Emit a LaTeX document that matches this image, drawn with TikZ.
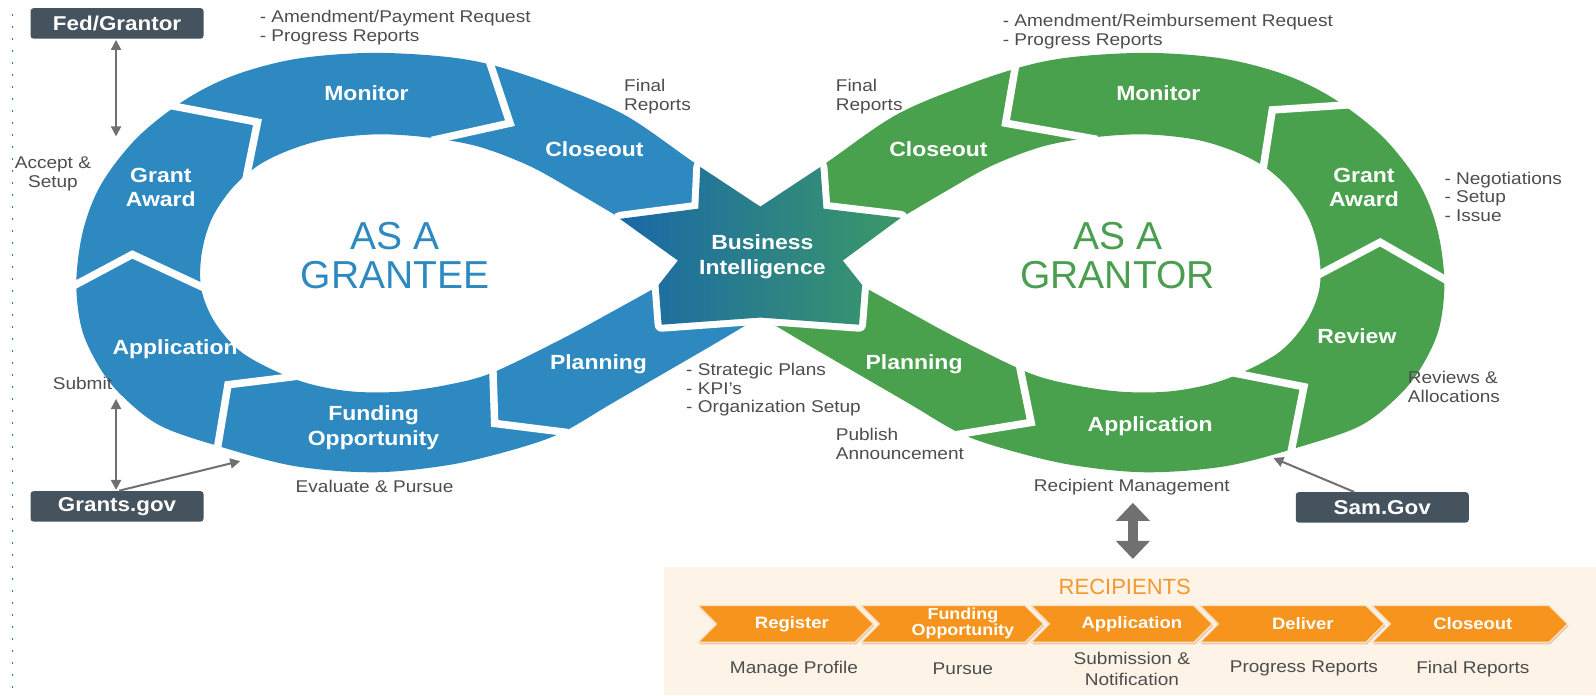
\documentclass[tikz,border=0pt]{standalone}
\usepackage{fontspec}
\setmainfont{Liberation Sans}[FakeStretch=1.12]
\newfontfamily\plainfont{Liberation Sans}
\usetikzlibrary{arrows.meta}
\definecolor{bandblue}{HTML}{2D89C0}
\definecolor{bandgreen}{HTML}{49A04D}
\definecolor{titlegreen}{HTML}{4A9E50}
\definecolor{starL}{HTML}{1A68A8}
\definecolor{starR}{HTML}{3B9868}
\definecolor{notegray}{HTML}{4D4D4D}
\definecolor{boxgray}{HTML}{45535E}
\definecolor{arrowgray}{HTML}{707070}
\definecolor{chevorange}{HTML}{F7941E}
\definecolor{chevshadow}{HTML}{E2CBB0}
\definecolor{chevedge}{HTML}{FBE1C2}
\definecolor{panelbg}{HTML}{FDF3E7}
\definecolor{recorange}{HTML}{F4972C}
\definecolor{dotcol}{HTML}{2B7A99}
\tikzset{
  seglabel/.style={font=\fontsize{20.5}{24.5}\selectfont\bfseries, text=white, align=center, inner sep=0},
  notetext/.style={font=\fontsize{17}{18.5}\selectfont, text=notegray, align=left, inner sep=0},
  darkbox/.style={fill=boxgray, rounded corners=3pt, text=white, font=\fontsize{20}{24}\selectfont\bfseries, minimum width=173pt, minimum height=30.5pt, inner sep=0},
  segsep/.style={draw=white, line width=7.5pt, line join=miter},
  dblarrow/.style={draw=arrowgray, line width=2pt, {Triangle[length=10pt,width=10pt]}-{Triangle[length=10pt,width=10pt]}},
  sglarrow/.style={draw=arrowgray, line width=2pt, -{Triangle[length=10pt,width=10pt]}},
  bigarr/.style={draw=arrowgray, line width=10pt, {Triangle[length=18pt,width=33pt]}-{Triangle[length=18pt,width=33pt]}},
  bigtitle/.style={font=\plainfont\fontsize{39}{39.5}\selectfont, align=center, inner sep=0},
  chevlabel/.style={font=\bfseries\fontsize{16.5}{16.5}\selectfont, text=white, inner sep=0, align=center},
}
\begin{document}
\begin{tikzpicture}[x=1.018pt,y=-1.018pt]
\useasboundingbox (0,0) rectangle (1568,683);

% dotted margin line
\draw[dotcol, line width=1.3pt, dash pattern=on 2pt off 10pt] (12,14) -- (12,690);

% left loop band
\fill[bandblue, even odd rule]
  plot[smooth, tension=0.55] coordinates {(747,206) (678,157) (612,112) (540,82) (480,63) (430,55) (361,52) (290,58) (230,74) (182,98) (135,135) (100,180) (82,225) (75,276) (80,322) (96,358) (118,387) (157,418) (217,439) (290,458) (368,464) (440,457) (500,443) (550,426) (600,397) (650,368) (700,339) (747,311)} -- cycle
  plot[smooth, tension=0.55] coordinates {(609,214) (565,188) (520,163) (470,144) (420,135) (370,132) (320,137) (283,148) (253,163) (228,185) (208,215) (198,250) (198,285) (212,318) (240,348) (291,373) (340,384) (390,385) (440,378) (484,366) (552,333) (600,307) (647,281)} -- (666,256) -- cycle;

% right loop band (mirror)
\begin{scope}[shift={(1494,0)}, xscale=-1]
\fill[bandgreen, even odd rule]
  plot[smooth, tension=0.55] coordinates {(747,206) (678,157) (612,112) (540,82) (480,63) (430,55) (361,52) (290,58) (230,74) (182,98) (135,135) (100,180) (82,225) (75,276) (80,322) (96,358) (118,387) (157,418) (217,439) (290,458) (368,464) (440,457) (500,443) (550,426) (600,397) (650,368) (700,339) (747,311)} -- cycle
  plot[smooth, tension=0.55] coordinates {(609,214) (565,188) (520,163) (470,144) (420,135) (370,132) (320,137) (283,148) (253,163) (228,185) (208,215) (198,250) (198,285) (212,318) (240,348) (291,373) (340,384) (390,385) (440,378) (484,366) (552,333) (600,307) (647,281)} -- (666,256) -- cycle;
\end{scope}

% segment separators (left)
\draw[segsep] (164,103) -- (253,120) -- (240,184);
\draw[segsep] (479,55) -- (501,121) -- (424,138);
\draw[segsep] (484,356) -- (486,416) -- (558,425);
\draw[segsep] (213,444) -- (224,378) -- (297,369);
\draw[segsep] (70,282) -- (130,250) -- (203,284);
% segment separators (right)
\draw[segsep] (999,57) -- (988,121) -- (1078,137);
\draw[segsep] (1340,102) -- (1250,108) -- (1240,172);
\draw[segsep] (1282,277) -- (1356,238) -- (1424,277);
\draw[segsep] (1205,365) -- (1281,380) -- (1268,446);
\draw[segsep] (1001,356) -- (1013,415) -- (940,427);

% central star
\path[draw=white, line width=14pt, line join=round] (609,215) -- (686,205) -- (688,164) -- (747,203) -- (806,164) -- (809,205) -- (885,214) -- (828,256) -- (847,280) -- (844,319) -- (747,312) -- (650,319) -- (647,280) -- (666,256) -- cycle;
\shade[left color=starL, right color=starR] (609,215) -- (686,205) -- (688,164) -- (747,203) -- (806,164) -- (809,205) -- (885,214) -- (828,256) -- (847,280) -- (844,319) -- (747,312) -- (650,319) -- (647,280) -- (666,256) -- cycle;

% segment labels
\node[seglabel] (lmon) at (360,92) {Monitor};
\node[seglabel] (lclose) at (584,147) {Closeout};
\node[seglabel] (lga) at (158,184) {Grant\\Award};
\node[seglabel] (lapp) at (172,343) {Application};
\node[seglabel] (lfund) at (367,420) {Funding\\Opportunity};
\node[seglabel] (lplan) at (588,358) {Planning};
\node[seglabel] (rclose) at (922,147) {Closeout};
\node[seglabel] (rmon) at (1138,92) {Monitor};
\node[seglabel] (rga) at (1340,184) {Grant\\Award};
\node[seglabel] (rrev) at (1333,330) {Review};
\node[seglabel] (rapp) at (1130,419) {Application};
\node[seglabel] (rplan) at (898,358) {Planning};
\node[seglabel] (bi) at (749,252) {Business\\Intelligence};

% titles
\node[bigtitle, text=bandblue] (grantee) at (388,251) {AS A\\GRANTEE};
\node[bigtitle, text=titlegreen] (grantor) at (1098,251) {AS A\\GRANTOR};

% annotations
\node[notetext, anchor=west] (lamend) at (255,27) {- Amendment/Payment Request\\- Progress Reports};
\node[notetext, anchor=west] (lfinal) at (613,95) {Final\\Reports};
\node[notetext, align=center] (accept) at (52,171) {Accept \&\\Setup};
\node[notetext] (submit) at (81,377) {Submit};
\node[notetext] (evalp) at (368,478) {Evaluate \& Pursue};
\node[notetext, anchor=west] (strat) at (674,383) {- Strategic Plans\\- KPI’s\\- Organization Setup};
\node[notetext, anchor=west] (publish) at (821,436) {Publish\\Announcement};
\node[notetext, anchor=west] (ramend) at (985,31) {- Amendment/Reimbursement Request\\- Progress Reports};
\node[notetext, anchor=west] (rfinal) at (821,95) {Final\\Reports};
\node[notetext, anchor=west] (nego) at (1419,193) {- Negotiations\\- Setup\\- Issue};
\node[notetext, anchor=west] (reviews) at (1383,380) {Reviews \&\\Allocations};
\node[notetext] (recmgmt) at (1112,479) {Recipient Management};

% dark boxes
\node[darkbox] (fed) at (115,23) {Fed/Grantor};
\node[darkbox] (grants) at (115,497.5) {Grants.gov};
\node[darkbox] (sam) at (1358,498.5) {Sam.Gov};

% arrows
\coordinate (fedarr) at (114,134);
\coordinate (submitarr) at (114,392);
\coordinate (fundarr) at (236,453);
\coordinate (samarr) at (1251,450);
\draw[dblarrow, shorten <=1pt] ([xshift=-1pt]fed.south) -- ([xshift=-1pt]fed.south |- fedarr);
\draw[dblarrow, shorten <=1pt] ([xshift=-1pt]grants.north) -- ([xshift=-1pt]grants.north |- submitarr);
\draw[sglarrow, shorten <=1pt] ([xshift=1pt]grants.north) -- (fundarr);
\draw[sglarrow] ([xshift=-28pt]sam.north) -- (samarr);

% recipients panel
\node[fill=panelbg, minimum width=932.5pt, minimum height=128.3pt, anchor=north west, inner sep=0] (panel) at (652,557) {};
\coordinate (bigtop) at (1113,494);
\draw[bigarr, shorten >=8pt] (bigtop) -- (bigtop |- panel.north);
\node[font=\plainfont\fontsize{22}{22}\selectfont, text=recorange, inner sep=0] (rectitle) at (1105,577) {RECIPIENTS};

% chevrons
\foreach \a/\b in {686/846, 846/1013, 1013/1179, 1179/1348, 1348/1528} {
  \fill[chevshadow] (\a+1,597) -- (\b-5,597) -- (\b+13,615) -- (\b-5,633) -- (\a+1,633) -- (\a+19,615) -- cycle;
  \filldraw[fill=chevorange, draw=chevedge, line width=1.2pt, line join=miter] (\a,595) -- (\b-6,595) -- (\b+12,613) -- (\b-6,631) -- (\a,631) -- (\a+18,613) -- cycle;
}
\node[chevlabel] (c1) at (778,613) {Register};
\node[chevlabel, font=\bfseries\fontsize{16}{13.5}\selectfont] (c2) at (946,612) {Funding\\Opportunity};
\node[chevlabel] (c3) at (1112,613) {Application};
\node[chevlabel] (c4) at (1280,613) {Deliver};
\node[chevlabel] (c5) at (1447,613) {Closeout};

\node[notetext, align=center] (s1) at (780,657) {Manage Profile};
\node[notetext, align=center] (s2) at (946,657) {Pursue};
\node[notetext, align=center, font=\fontsize{17}{20.4}\selectfont] (s3) at (1112,657) {Submission \&\\Notification};
\node[notetext, align=center] (s4) at (1281,657) {Progress Reports};
\node[notetext, align=center] (s5) at (1447,657) {Final Reports};
\end{tikzpicture}
\end{document}
